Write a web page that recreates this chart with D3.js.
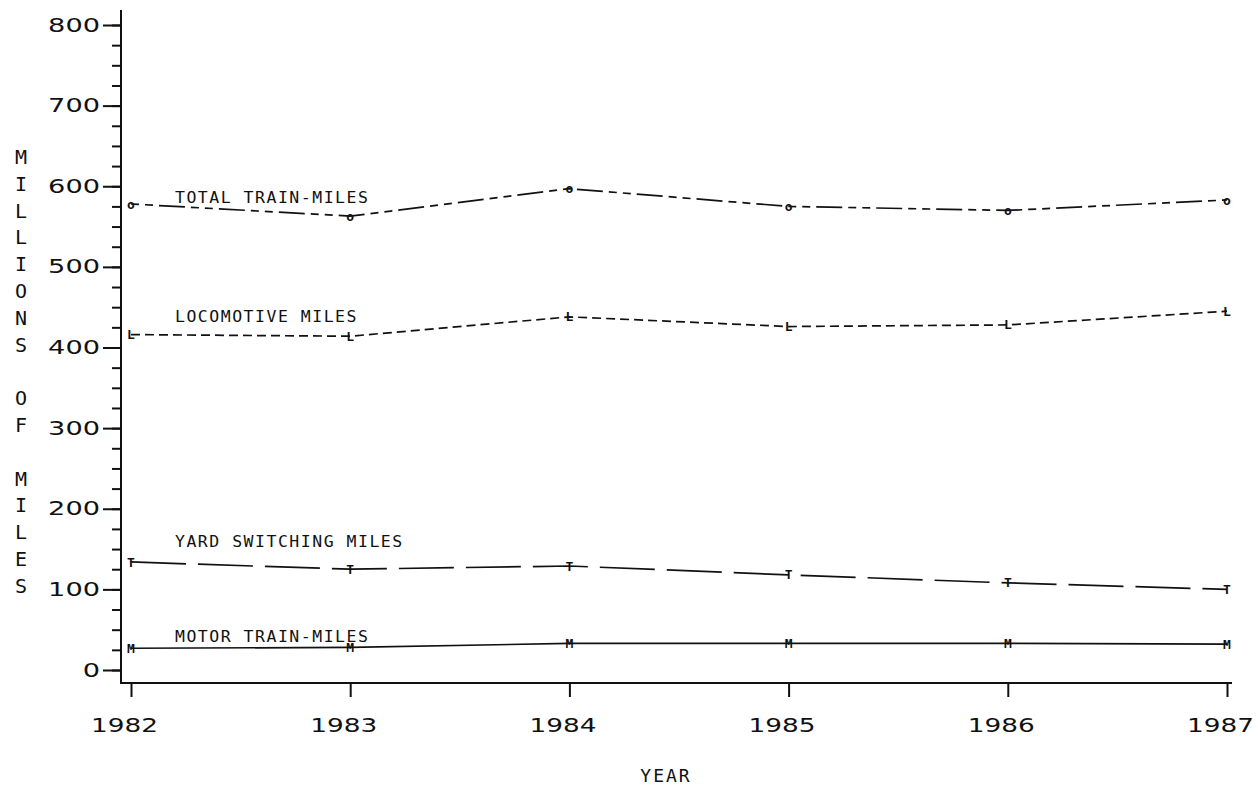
<!DOCTYPE html>
<html>
<head>
<meta charset="utf-8">
<script src="https://cdn.jsdelivr.net/npm/d3@7"></script>
<style>
  body { margin: 0; background: #fff; }
  svg { display: block; }
  .axis text { font-family: "DejaVu Sans", sans-serif; font-size: 20px; fill: #111; }
  .axis line { stroke: #111; stroke-width: 2; }
  .series-label { font-family: "DejaVu Sans Mono", monospace; font-size: 16.5px; letter-spacing: 1.5px; fill: #111; }
  .marker { font-family: "DejaVu Sans Mono", monospace; font-size: 13px; fill: #111; }
</style>
</head>
<body>
<script>
const years = [1982, 1983, 1984, 1985, 1986, 1987];
const totalTrain = [578, 563, 597, 575, 570, 583];
const locomotive = [416, 414, 438, 426, 428, 445];
const yardSwitching = [134, 125, 129, 118, 108, 100];
const motorTrain = [27, 28, 33, 33, 33, 32];
const yTicks = [0, 100, 200, 300, 400, 500, 600, 700, 800];
const seriesNames = ["TOTAL TRAIN-MILES", "LOCOMOTIVE MILES", "YARD SWITCHING MILES", "MOTOR TRAIN-MILES"];
const markers = ["o", "L", "T", "M"];

const width = 1258, height = 787;
const axisX = 121, axisY = 683;

const svg = d3.select("body").append("svg")
  .attr("width", width)
  .attr("height", height);

const xScale = d3.scaleLinear().domain([1982, 1987]).range([131, 1227]);
const yScale = d3.scaleLinear().domain([0, 800]).range([670, 25]);

// axis lines
svg.append("line")
  .attr("x1", axisX).attr("x2", axisX)
  .attr("y1", 10).attr("y2", axisY + 1)
  .attr("stroke", "#111").attr("stroke-width", 2);
svg.append("line")
  .attr("x1", axisX - 1).attr("x2", 1232)
  .attr("y1", axisY).attr("y2", axisY)
  .attr("stroke", "#111").attr("stroke-width", 2);

// y minor ticks
svg.append("g")
  .attr("class", "axis")
  .attr("transform", "translate(" + axisX + ",0)")
  .call(d3.axisLeft(yScale).tickValues(d3.range(0, 801, 25)).tickSize(9).tickFormat(""))
  .call(g => g.select(".domain").remove());

// y major ticks
svg.append("g")
  .attr("class", "axis")
  .attr("transform", "translate(" + axisX + ",0)")
  .call(d3.axisLeft(yScale).tickValues(yTicks).tickSize(18).tickPadding(3).tickFormat(d3.format("d")))
  .call(g => g.select(".domain").remove())
  .selectAll("text")
  .style("font-size", "19px")
  .attr("textLength", d => String(d).length * 17.3)
  .attr("lengthAdjust", "spacingAndGlyphs");

// x axis
svg.append("g")
  .attr("class", "axis")
  .attr("transform", "translate(0," + axisY + ")")
  .call(d3.axisBottom(xScale).tickValues(years).tickSize(14).tickPadding(21).tickFormat(d3.format("d")))
  .call(g => g.select(".domain").remove())
  .selectAll("text")
  .attr("dx", -7)
  .attr("textLength", 67)
  .attr("lengthAdjust", "spacingAndGlyphs");

// axis titles
const yTitle = "MILLIONS OF MILES".split("");
svg.append("g").selectAll("text")
  .data(yTitle)
  .enter()
  .append("text")
  .attr("x", 21)
  .attr("y", (d, i) => 157 + i * 26.8)
  .attr("dy", "0.35em")
  .style("text-anchor", "middle")
  .style("font-family", "DejaVu Sans Mono, monospace")
  .style("font-size", "20px")
  .style("fill", "#111")
  .text(d => d);

svg.append("text")
  .attr("x", 666)
  .attr("y", 782)
  .style("text-anchor", "middle")
  .style("font-family", "DejaVu Sans Mono, monospace")
  .style("font-size", "18px")
  .style("letter-spacing", "2px")
  .style("fill", "#111")
  .text("YEAR");

// series
const seriesData = [totalTrain, locomotive, yardSwitching, motorTrain];
const dashes = ["8,6,8,6,26,6", "9,5", "55,12", null];
const labelBaselines = [203, 322, 547, 642];

const line = d3.line()
  .x((d, i) => xScale(years[i]))
  .y(d => yScale(d));

seriesData.forEach((vals, s) => {
  svg.append("path")
    .datum(vals)
    .attr("d", line)
    .attr("fill", "none")
    .attr("stroke", "#111")
    .attr("stroke-width", 1.7)
    .attr("stroke-dasharray", dashes[s]);

  svg.append("g").selectAll("text")
    .data(vals)
    .enter()
    .append("text")
    .attr("class", "marker")
    .attr("x", (d, i) => xScale(years[i]))
    .attr("y", d => yScale(d))
    .attr("dy", "0.35em")
    .style("text-anchor", "middle")
    .style("font-weight", "bold")
    .text(markers[s]);

  svg.append("text")
    .attr("class", "series-label")
    .attr("x", 175)
    .attr("y", labelBaselines[s])
    .text(seriesNames[s]);
});
</script>
</body>
</html>
